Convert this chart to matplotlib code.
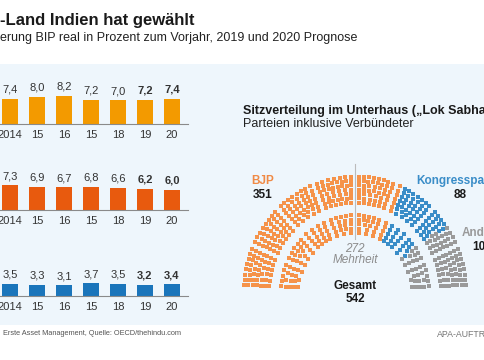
import numpy as np
import matplotlib.pyplot as plt
from matplotlib.patches import Rectangle

plt.rcParams['font.family'] = ['Liberation Sans', 'DejaVu Sans']

W, H = 485, 360

# Data
years = ['2014', '15', '16', '15', '18', '19', '20']
gdp_a = [7.4, 8.0, 8.2, 7.2, 7.0, 7.2, 7.4]
gdp_b = [7.3, 6.9, 6.7, 6.8, 6.6, 6.2, 6.0]
gdp_c = [3.5, 3.3, 3.1, 3.7, 3.5, 3.2, 3.4]
forecast_from = 5  # 2019 and 2020 shown in bold

parties = ['BJP', 'Kongresspartei', 'Andere']
seats = [351, 88, 103]
majority = 272

seat_colors = ['#F5934A', '#3A8DC8', '#9A9A9A']
text_colors = ['#F08A45', '#3A8DC8', '#9A9A9A']

fig = plt.figure(figsize=(W / 100, H / 100), dpi=100)

# background axes in pixel units
bg = fig.add_axes([0, 0, 1, 1])
bg.set_xlim(0, W)
bg.set_ylim(H, 0)
bg.axis('off')
bg.add_patch(Rectangle((0, 64), W, 261, facecolor='#EEF6FC', edgecolor='none', zorder=0))

# titles
bg.text(0, 25, '-Land Indien hat gewählt', fontsize=12, fontweight='bold', color='#1a1a1a')
bg.text(0, 41, 'erung BIP real in Prozent zum Vorjahr, 2019 und 2020 Prognose',
        fontsize=9, color='#222222')


def bar_row(values, color, base_px):
    px_per_unit = 3.4
    h_px = 45
    ax = fig.add_axes([0, 1 - base_px / H, 188 / W, h_px / H])
    x = np.arange(len(values))
    ax.bar(x, values, width=0.6, color=color)
    ax.set_xlim(-10 / 27, 178 / 27)
    ax.set_ylim(0, h_px / px_per_unit)
    ax.patch.set_alpha(0)
    for s in ['top', 'right', 'left']:
        ax.spines[s].set_visible(False)
    ax.spines['bottom'].set_color('#8a8a8a')
    ax.spines['bottom'].set_linewidth(0.8)
    ax.set_yticks([])
    ax.set_xticks(x, years)
    ax.tick_params(axis='x', length=0, pad=4.5, labelsize=8, labelcolor='#333333')
    for i, v in enumerate(values):
        ax.annotate(f'{v:.1f}'.replace('.', ','), (i, v), xytext=(0, 3),
                    textcoords='offset points', ha='center', va='bottom',
                    fontsize=8, color='#333333',
                    fontweight='bold' if i >= forecast_from else 'normal')


bar_row(gdp_a, '#F39A00', 124)
bar_row(gdp_b, '#E85A0E', 210)
bar_row(gdp_c, '#1A75BB', 296)

# hemicycle
bg.text(243, 114, 'Sitzverteilung im Unterhaus („Lok Sabha“)', fontsize=9,
        fontweight='bold', color='#1a1a1a')
bg.text(243, 127, 'Parteien inklusive Verbündeter', fontsize=9, color='#222222')

cx, cy, sy = 355, 293, 1.05
rows_r = np.concatenate([np.linspace(57, 74, 5), np.linspace(86, 111, 7)])
n_wedges = 8
a0, a1 = 2.0, 178.0
gap_px = 7.5

total = sum(seats)
cap = rows_r * np.deg2rad(a1 - a0) - n_wedges * gap_px
share = cap / cap.sum() * total
row_n = np.floor(share).astype(int)
rest = total - row_n.sum()
row_n[np.argsort(share - row_n)[::-1][:rest]] += 1

angles, radii = [], []
bounds = np.linspace(a0, a1, n_wedges + 1)
for r, n in zip(rows_r, row_n):
    half_gap = np.rad2deg(gap_px / 2 / r)
    per = np.diff(np.round(np.linspace(0, n, n_wedges + 1)).astype(int))
    for w, k in enumerate(per):
        lo, hi = bounds[w] + half_gap, bounds[w + 1] - half_gap
        angles.extend(np.linspace(lo, hi, k))
        radii.extend([r] * k)
angles = np.array(angles)
radii = np.array(radii)
order = np.argsort(-angles)
angles, radii = angles[order], radii[order]
xs = cx + radii * np.cos(np.deg2rad(angles))
ys = cy - sy * radii * np.sin(np.deg2rad(angles))

start = 0
for n, c in zip(seats, seat_colors):
    bg.scatter(xs[start:start + n], ys[start:start + n], s=5, marker='s',
               color=c, linewidths=0, zorder=3)
    start += n

bg.plot([cx, cx], [cy - sy * (rows_r.max() + 12), cy - sy * rows_r.min() + 6],
        color='#bbbbbb', lw=0.8, zorder=2)

bg.text(cx, 252, str(majority), ha='center', fontsize=8.5, style='italic', color='#8c8c8c')
bg.text(cx, 263, 'Mehrheit', ha='center', fontsize=8.5, style='italic', color='#8c8c8c')
bg.text(cx, 289, 'Gesamt', ha='center', fontsize=8.5, fontweight='bold', color='#1a1a1a')
bg.text(cx, 302, str(total), ha='center', fontsize=8.5, fontweight='bold', color='#1a1a1a')

label_pos = [(263, 184), (460, 184), (482, 236)]
for name, n, col, (lx, ly) in zip(parties, seats, text_colors, label_pos):
    bg.text(lx, ly, name, ha='center', fontsize=8.5, fontweight='bold', color=col)
    bg.text(lx, ly + 13.5, str(n), ha='center', fontsize=8.5, fontweight='bold', color='#1a1a1a')

# footer
bg.text(3, 335, 'Erste Asset Management, Quelle: OECD/thehindu.com', fontsize=5.3, color='#555555')
bg.text(437, 337, 'APA-AUFTRAGSGRAFIK', fontsize=6.3, color='#777777')

fig.savefig('out.png', dpi=100)
